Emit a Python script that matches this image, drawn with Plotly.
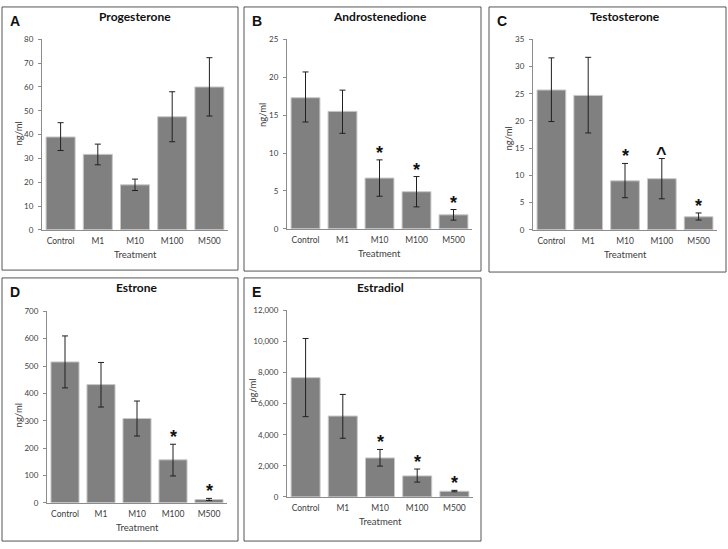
import plotly.graph_objects as go

W, H = 728, 549

categories = ["Control", "M1", "M10", "M100", "M500"]

prog_mean = [39.0, 31.7, 18.9, 47.5, 60.0]
prog_hi = [45.0, 36.0, 21.3, 58.0, 72.3]
prog_lo = [33.3, 27.3, 16.5, 37.0, 47.8]

andro_mean = [17.3, 15.5, 6.7, 4.9, 1.85]
andro_hi = [20.7, 18.3, 9.1, 6.9, 2.55]
andro_lo = [14.1, 12.6, 4.3, 2.9, 1.15]

testo_mean = [25.7, 24.7, 9.0, 9.4, 2.4]
testo_hi = [31.6, 31.7, 12.2, 13.1, 3.1]
testo_lo = [19.9, 17.8, 5.9, 5.7, 1.8]

estrone_mean = [515, 432, 308, 157, 12]
estrone_hi = [610, 513, 372, 214, 16]
estrone_lo = [420, 350, 244, 98, 8]

estradiol_mean = [7670, 5200, 2505, 1350, 360]
estradiol_hi = [10190, 6590, 3050, 1790, 420]
estradiol_lo = [5160, 3770, 1980, 950, 330]

# significance marks per category
andro_marks = ["", "", "*", "*", "*"]
testo_marks = ["", "", "*", "^", "*"]
estrone_marks = ["", "", "", "*", "*"]
estradiol_marks = ["", "", "*", "*", "*"]
prog_marks = ["", "", "", "", ""]

panels = [
    dict(letter="A", title="Progesterone", ylab="ng/ml", mean=prog_mean, hi=prog_hi, lo=prog_lo,
         marks=prog_marks, yr=[0, 80], dt=10, fmt="", xpx=[42, 228], ypx=[35, 229],
         box=[2, 2, 238, 270], ylab_pos=[19, 131]),
    dict(letter="B", title="Androstenedione", ylab="ng/ml", mean=andro_mean, hi=andro_hi, lo=andro_lo,
         marks=andro_marks, yr=[0, 25], dt=5, fmt="", xpx=[287, 472], ypx=[35, 228],
         box=[244, 2, 481, 271], ylab_pos=[263, 112]),
    dict(letter="C", title="Testosterone", ylab="ng/ml", mean=testo_mean, hi=testo_hi, lo=testo_lo,
         marks=testo_marks, yr=[0, 35], dt=5, fmt="", xpx=[533, 717], ypx=[35, 229],
         box=[489, 2, 726, 272], ylab_pos=[509, 136]),
    dict(letter="D", title="Estrone", ylab="ng/ml", mean=estrone_mean, hi=estrone_hi, lo=estrone_lo,
         marks=estrone_marks, yr=[0, 700], dt=100, fmt="", xpx=[47, 227], ypx=[312, 507],
         box=[2, 278, 238, 546], ylab_pos=[18, 418]),
    dict(letter="E", title="Estradiol", ylab="pg/ml", mean=estradiol_mean, hi=estradiol_hi, lo=estradiol_lo,
         marks=estradiol_marks, yr=[0, 12000], dt=2000, fmt=",", xpx=[287, 473], ypx=[311, 501],
         box=[244, 278, 481, 546], ylab_pos=[253, 393]),
]

FONT = "Lato"
TXT = "#404040"
AX = "#8c8c8c"

fig = go.Figure()
annotations = []
shapes = []
layout = {}

for i, p in enumerate(panels):
    n = "" if i == 0 else str(i + 1)
    xa, ya = "x" + n, "y" + n
    err_plus = [h - m for h, m in zip(p["hi"], p["mean"])]
    err_minus = [m - l for m, l in zip(p["mean"], p["lo"])]
    fig.add_trace(go.Bar(
        x=categories, y=p["mean"], xaxis=xa, yaxis=ya,
        marker=dict(color="#808080", line=dict(color="#c8c8c8", width=1)),
        error_y=dict(type="data", symmetric=False, array=err_plus, arrayminus=err_minus,
                     color="#202020", thickness=1, width=3),
        showlegend=False, hoverinfo="skip",
    ))
    x0, x1 = p["xpx"]
    t, b = p["ypx"]
    layout["xaxis" + n] = dict(
        domain=[x0 / W, x1 / W], anchor=ya, showline=True, linecolor=AX, linewidth=1,
        ticks="", showgrid=False, zeroline=False, range=[-0.5, 4.5], fixedrange=True,
        tickfont=dict(family=FONT, size=8.5, color=TXT), ticklabelstandoff=3,
    )
    layout["yaxis" + n] = dict(
        domain=[1 - b / H, 1 - t / H], anchor=xa, showline=True, linecolor=AX, linewidth=1,
        ticks="outside", ticklen=3, tickcolor=AX, showgrid=False, zeroline=False,
        range=p["yr"], dtick=p["dt"], tick0=0, tickformat=p["fmt"], fixedrange=True,
        tickfont=dict(family=FONT, size=8, color=TXT), ticklabelstandoff=3,
    )
    bx0, by0, bx1, by1 = p["box"]
    shapes.append(dict(type="rect", xref="paper", yref="paper",
                       x0=bx0 / W, x1=bx1 / W, y0=1 - by1 / H, y1=1 - by0 / H,
                       line=dict(color="#555555", width=1)))
    cx = (x0 + x1) / 2
    annotations.append(dict(text="<b>" + p["title"] + "</b>", xref="paper", yref="paper",
                            x=cx / W, y=1 - (by0 + 10) / H, showarrow=False,
                            xanchor="center", yanchor="middle",
                            font=dict(family=FONT, size=12, color="#111111")))
    annotations.append(dict(text="<b>" + p["letter"] + "</b>", xref="paper", yref="paper",
                            x=(bx0 + 6) / W, y=1 - (by0 + 14) / H, showarrow=False,
                            xanchor="left", yanchor="middle",
                            font=dict(family="Liberation Sans", size=14, color="#111111")))
    annotations.append(dict(text="Treatment", xref="paper", yref="paper",
                            x=cx / W, y=1 - (b + 25) / H, showarrow=False,
                            xanchor="center", yanchor="middle",
                            font=dict(family=FONT, size=9.5, color=TXT)))
    lx, ly = p["ylab_pos"]
    annotations.append(dict(text=p["ylab"], xref="paper", yref="paper",
                            x=lx / W, y=1 - ly / H, showarrow=False, textangle=-90,
                            xanchor="center", yanchor="middle",
                            font=dict(family=FONT, size=9.5, color=TXT)))
    for c, m, h in zip(categories, p["marks"], p["hi"]):
        if m:
            annotations.append(dict(text="<b>" + m + "</b>", xref=xa, yref=ya, x=c, y=h,
                                    showarrow=False, xanchor="center", yanchor="bottom",
                                    yshift=-5 if m == "*" else -7,
                                    font=dict(family="Liberation Sans", size=18, color="#111111")))

fig.update_layout(
    width=W, height=H, margin=dict(l=0, r=0, t=0, b=0),
    paper_bgcolor="white", plot_bgcolor="white",
    bargap=0.22, annotations=annotations, shapes=shapes, **layout,
)

fig.write_html("out.html", config={"displayModeBar": False},
               post_script="document.body.style.margin='0';document.body.style.overflow='hidden';")
